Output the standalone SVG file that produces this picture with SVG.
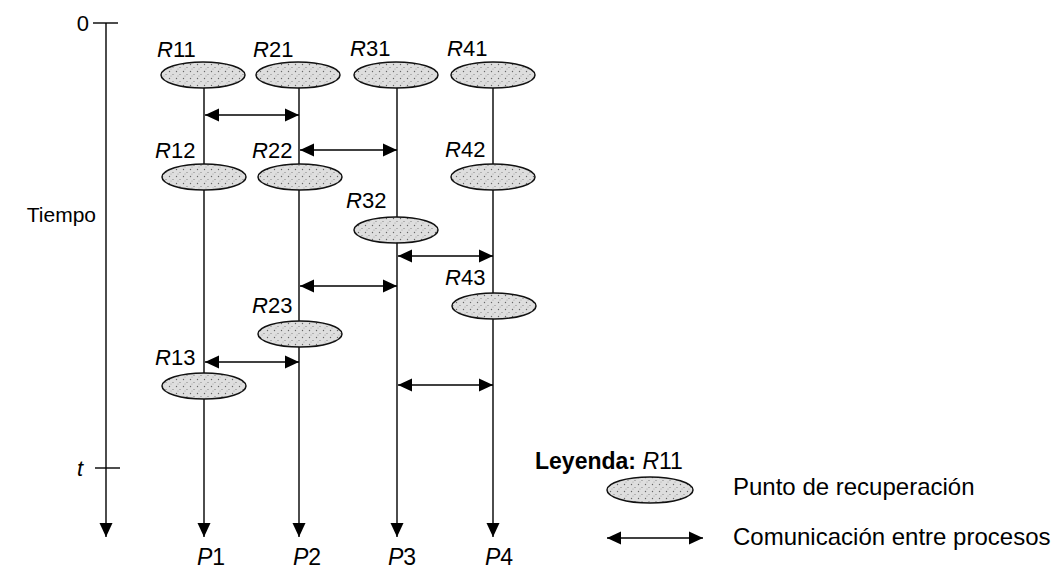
<svg xmlns="http://www.w3.org/2000/svg" width="1061" height="569" viewBox="0 0 1061 569">
<defs>
<pattern id="stip" width="7" height="7" patternUnits="userSpaceOnUse">
<rect width="7" height="7" fill="#dedede"/>
<circle cx="1.5" cy="1.5" r="0.7" fill="#666"/>
<circle cx="5" cy="4.5" r="0.6" fill="#777"/>
<circle cx="3" cy="6" r="0.5" fill="#999"/>
</pattern>
<marker id="ah" markerUnits="userSpaceOnUse" markerWidth="15" markerHeight="14" refX="14" refY="7" orient="auto-start-reverse" viewBox="0 0 15 14">
<path d="M0,0.5 L14,7 L0,13.5 z" fill="#000"/>
</marker>
<style>
.ln{stroke:#000;stroke-width:1.4;fill:none}
.pt{fill:url(#stip);stroke:#111;stroke-width:1.5}
.lb{font-family:"Liberation Sans",Arial,sans-serif;font-size:22px;fill:#000}
.big{font-family:"Liberation Sans",Arial,sans-serif;font-size:24px;fill:#000}
.it{font-style:italic}
</style>
</defs>
<rect width="1061" height="569" fill="#fff"/>

<g id="time-axis">
<line class="ln" x1="106" y1="23" x2="106" y2="537" marker-end="url(#ah)"/>
<line class="ln" x1="93" y1="23" x2="118" y2="23"/>
<line class="ln" x1="95" y1="468" x2="120" y2="468"/>
<text class="lb" x="89" y="31" text-anchor="end">0</text>
<text class="lb it" x="77" y="476">t</text>
<text class="lb" x="96" y="222" text-anchor="end" style="font-size:21px">Tiempo</text>
</g>

<g id="connectors">
<line class="ln" x1="204" y1="88" x2="204" y2="537" marker-end="url(#ah)"/>
<line class="ln" x1="299" y1="88" x2="299" y2="537" marker-end="url(#ah)"/>
<line class="ln" x1="397" y1="88" x2="397" y2="537" marker-end="url(#ah)"/>
<line class="ln" x1="493" y1="88" x2="493" y2="537" marker-end="url(#ah)"/>
<line class="ln" x1="205" y1="115" x2="299" y2="115" marker-start="url(#ah)" marker-end="url(#ah)"/>
<line class="ln" x1="300" y1="150" x2="397" y2="150" marker-start="url(#ah)" marker-end="url(#ah)"/>
<line class="ln" x1="398" y1="256" x2="493" y2="256" marker-start="url(#ah)" marker-end="url(#ah)"/>
<line class="ln" x1="300" y1="286" x2="397" y2="286" marker-start="url(#ah)" marker-end="url(#ah)"/>
<line class="ln" x1="205" y1="362" x2="299" y2="362" marker-start="url(#ah)" marker-end="url(#ah)"/>
<line class="ln" x1="398" y1="385" x2="493" y2="385" marker-start="url(#ah)" marker-end="url(#ah)"/>
</g>

<g id="R11"><ellipse class="pt" cx="203" cy="75" rx="42" ry="13"/><text class="lb" x="157" y="57"><tspan class="it">R</tspan>11</text></g>
<g id="R21"><ellipse class="pt" cx="298" cy="75" rx="42" ry="13"/><text class="lb" x="253" y="57"><tspan class="it">R</tspan>21</text></g>
<g id="R31"><ellipse class="pt" cx="396" cy="75" rx="42" ry="13"/><text class="lb" x="350" y="56"><tspan class="it">R</tspan>31</text></g>
<g id="R41"><ellipse class="pt" cx="493" cy="75" rx="42" ry="13"/><text class="lb" x="447" y="56"><tspan class="it">R</tspan>41</text></g>
<g id="R12"><ellipse class="pt" cx="204" cy="177" rx="42" ry="13"/><text class="lb" x="155" y="158"><tspan class="it">R</tspan>12</text></g>
<g id="R22"><ellipse class="pt" cx="300" cy="177" rx="42" ry="13"/><text class="lb" x="252" y="158"><tspan class="it">R</tspan>22</text></g>
<g id="R42"><ellipse class="pt" cx="493" cy="177" rx="42" ry="13"/><text class="lb" x="445" y="157"><tspan class="it">R</tspan>42</text></g>
<g id="R32"><ellipse class="pt" cx="396" cy="230" rx="42" ry="13"/><text class="lb" x="346" y="208"><tspan class="it">R</tspan>32</text></g>
<g id="R43"><ellipse class="pt" cx="494" cy="306" rx="42" ry="13"/><text class="lb" x="445" y="285"><tspan class="it">R</tspan>43</text></g>
<g id="R23"><ellipse class="pt" cx="300" cy="334" rx="42" ry="13"/><text class="lb" x="252" y="313"><tspan class="it">R</tspan>23</text></g>
<g id="R13"><ellipse class="pt" cx="204" cy="386" rx="42" ry="13"/><text class="lb" x="155" y="365"><tspan class="it">R</tspan>13</text></g>

<g id="P1"><text class="lb" x="197" y="565" style="font-size:23px"><tspan class="it">P</tspan>1</text></g>
<g id="P2"><text class="lb" x="293" y="565" style="font-size:23px"><tspan class="it">P</tspan>2</text></g>
<g id="P3"><text class="lb" x="388" y="565" style="font-size:23px"><tspan class="it">P</tspan>3</text></g>
<g id="P4"><text class="lb" x="485" y="565" style="font-size:23px"><tspan class="it">P</tspan>4</text></g>

<g id="legend">
<text class="lb" x="535" y="469" style="font-size:23px"><tspan font-weight="bold">Leyenda:</tspan> <tspan class="it">R</tspan>11</text>
<ellipse class="pt" cx="650" cy="490" rx="43" ry="13"/>
<text class="big" x="733" y="495">Punto de recuperación</text>
<line class="ln" x1="607" y1="538" x2="703" y2="538" marker-start="url(#ah)" marker-end="url(#ah)"/>
<text class="big" x="733" y="545">Comunicación entre procesos</text>
</g>
</svg>
